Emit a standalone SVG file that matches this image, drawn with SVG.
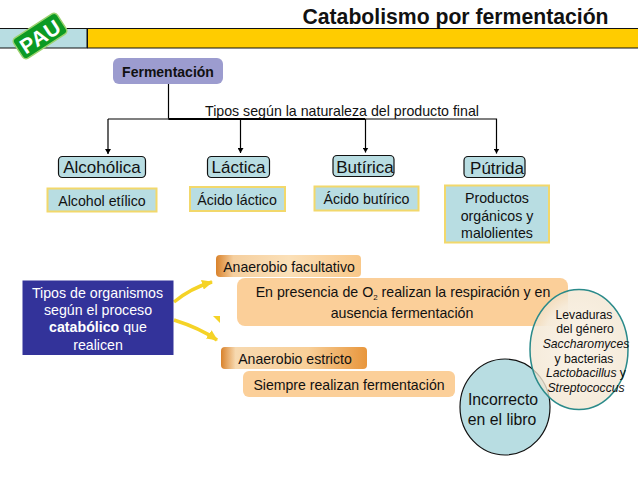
<svg xmlns="http://www.w3.org/2000/svg" width="638" height="479" viewBox="0 0 638 479">
<defs>
<linearGradient id="tab" x1="0" y1="0" x2="1" y2="0"><stop offset="0" stop-color="#d9822b"/><stop offset="0.12" stop-color="#f5cf9f"/><stop offset="0.5" stop-color="#fbe0b8"/><stop offset="1" stop-color="#f9c889"/></linearGradient>
<linearGradient id="tab2" x1="0" y1="0" x2="1" y2="0"><stop offset="0" stop-color="#d9822b"/><stop offset="0.1" stop-color="#f7d9b0"/><stop offset="0.6" stop-color="#f8cf98"/><stop offset="1" stop-color="#e8963c"/></linearGradient>
<radialGradient id="lev" cx="0.5" cy="0.5" r="0.55"><stop offset="0" stop-color="#faf3e8" stop-opacity="1"/><stop offset="0.7" stop-color="#f6ecdc" stop-opacity="0.95"/><stop offset="1" stop-color="#efe0c8" stop-opacity="0.6"/></radialGradient>
<marker id="arr" markerWidth="6" markerHeight="6" refX="5" refY="3" orient="auto" markerUnits="userSpaceOnUse"><path d="M0 0L5 3L0 6Z" fill="#000"/></marker>
<marker id="yarr" markerWidth="12" markerHeight="10" refX="10" refY="5" orient="auto" markerUnits="userSpaceOnUse"><path d="M0 0L11 5L0 10Z" fill="#f5d327"/></marker>
</defs>
<style>
text{font-family:"Liberation Sans",Arial,sans-serif;fill:#111;text-anchor:middle}
.t13{font-size:14.1px}.t14{font-size:14.2px}.t16{font-size:17px}
.head{fill:#b8dde2;stroke:#111;stroke-width:1.2}
.res{fill:#b8dde2;stroke:#f2d86b;stroke-width:2}
.bar{fill:#fbcf99}
.tree{fill:none;stroke:#000;stroke-width:1.2}
.yl{fill:none;stroke:#f5d327;stroke-width:3.5}
</style>
<g id="band"><rect x="-1" y="28.5" width="88" height="19.5" fill="#b8dde2" stroke="#111" stroke-width="1"/><rect x="87.500" y="28.500" width="552" height="19.500" fill="#ffcc00" stroke="#111" stroke-width="1"/></g>
<g id="pau" transform="rotate(-33 40 36)"><rect x="14" y="24" width="52" height="24" rx="4" fill="#0c9a23" stroke="#9bd26f" stroke-width="1.500"/><text x="40" y="44" style="font-size:21px;font-weight:bold;fill:#fff;letter-spacing:.5px">PAU</text></g>
<text id="title" x="455.500" y="24" style="font-size:21.200px;font-weight:bold">Catabolismo por fermentación</text>
<g id="connectors">
<path class="tree" d="M168.500 84V118.500"/>
<path class="tree" d="M108 119H496.500V153.500" marker-end="url(#arr)"/>
<path class="tree" d="M108 119V154" marker-end="url(#arr)"/>
<path class="tree" d="M240.500 119V153" marker-end="url(#arr)"/>
<path class="tree" d="M365.500 119V152.500" marker-end="url(#arr)"/>
<path d="M168.500 119H365" fill="none" stroke="#000" stroke-width="1.800"/>
<path class="yl" d="M174 302C186 292 198 286 212 282" marker-end="url(#yarr)"/>
<path class="yl" d="M174 320C190 325 204 331 217 340" marker-end="url(#yarr)"/>
<path d="M213 316H220V323Z" fill="#f5d327"/>
</g>
<g id="fermentacion"><rect x="113" y="58" width="110" height="26" rx="6" fill="#9c9ccf"/><text x="168" y="77" style="font-weight:bold;font-size:14px">Fermentación</text></g>
<text id="tipos-label" x="342" y="115.500" style="font-size:14.200px">Tipos según la naturaleza del producto final</text>
<g id="alcoholica"><rect class="head" x="58.500" y="156.500" width="87" height="21" rx="4"/><text class="t16" x="102" y="173">Alcohólica</text></g>
<g id="lactica"><rect class="head" x="207.500" y="156.500" width="62" height="21" rx="4"/><text class="t16" x="238.500" y="173">Láctica</text></g>
<g id="butirica"><rect class="head" x="333" y="155.500" width="61" height="21" rx="4"/><text class="t16" x="365" y="173">Butírica</text></g>
<g id="putrida"><rect class="head" x="464" y="156.500" width="61" height="21" rx="4"/><text class="t16" x="497" y="174">Pútrida</text></g>
<g id="alcohol-etilico"><rect class="res" x="47.500" y="188.500" width="109" height="23"/><text class="t14" x="102" y="206">Alcohol etílico</text></g>
<g id="acido-lactico"><rect class="res" x="190" y="187" width="95" height="24"/><text class="t14" x="237" y="205">Ácido láctico</text></g>
<g id="acido-butirico"><rect class="res" x="314.500" y="186.500" width="104" height="24"/><text class="t14" x="366.500" y="204">Ácido butírico</text></g>
<g id="productos"><rect class="res" x="445" y="185.500" width="104" height="57"/><text class="t14" x="497" y="203">Productos</text><text class="t14" x="497" y="221">orgánicos y</text><text class="t14" x="497" y="238">malolientes</text></g>
<g id="tipos-organismos"><rect x="22.500" y="280.500" width="151" height="74.500" fill="#33339a"/><g style="font-size:14.200px"><text x="97.500" y="298" style="fill:#fff">Tipos de organismos</text><text x="98" y="315" style="fill:#fff">según el proceso</text><text x="98" y="332" style="fill:#fff"><tspan style="font-weight:bold;fill:#fff">catabólico</tspan> que</text><text x="98" y="350" style="fill:#fff">realicen</text></g></g>
<g id="facultativo-body"><rect class="bar" x="237" y="278" width="331" height="48" rx="8"/><text x="403" y="297" style="font-size:14.200px">En presencia de O<tspan dy="3" style="font-size:8px">2</tspan><tspan dy="-3"> realizan la respiración y en</tspan></text><text x="402" y="318" style="font-size:14.200px">ausencia fermentación</text></g>
<g id="facultativo"><rect x="216" y="255" width="145" height="22" rx="4" fill="url(#tab)"/><text class="t13" x="289" y="272">Anaerobio facultativo</text></g>
<g id="estricto"><rect x="221" y="347" width="146" height="22" rx="4" fill="url(#tab2)"/><text class="t13" x="295" y="364">Anaerobio estricto</text></g>
<g id="siempre"><rect class="bar" x="243" y="371" width="212" height="26" rx="6"/><text class="t13" x="349" y="390">Siempre realizan fermentación</text></g>
<g id="incorrecto"><ellipse cx="505" cy="407" rx="45" ry="48" fill="#b8dde2" stroke="#111" stroke-width="1.200"/><text x="503" y="405" style="font-size:15.800px">Incorrecto</text><text x="502" y="425" style="font-size:15.800px">en el libro</text></g>
<g id="levaduras"><ellipse cx="579" cy="349.500" rx="49" ry="60" fill="url(#lev)" stroke="#2a8a8a" stroke-width="1.500"/><g style="font-size:12.200px"><text x="584" y="319">Levaduras</text><text x="585" y="333">del género</text><text x="586" y="348" style="font-style:italic">Saccharomyces</text><text x="584" y="363">y bacterias</text><text x="586" y="377"><tspan style="font-style:italic">Lactobacillus</tspan> y</text><text x="586" y="392" style="font-style:italic">Streptococcus</text></g></g>
</svg>
